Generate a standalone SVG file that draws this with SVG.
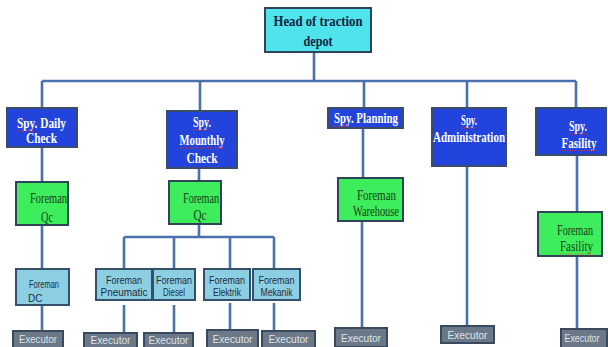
<svg xmlns="http://www.w3.org/2000/svg" width="608" height="347" viewBox="0 0 608 347">
  <style>
    .bg { fill: #ffffff; }
    .head { fill: #4fe4ec; stroke: #2f4458; stroke-width: 2; }
    .spy { fill: #2244dc; stroke: #3a4c66; stroke-width: 2; }
    .fq { fill: #3ded5c; stroke: #2f4458; stroke-width: 2; }
    .fl { fill: #8ccfe2; stroke: #34506a; stroke-width: 2; }
    .ex { fill: #6b7888; stroke: #3a4a5e; stroke-width: 2; }
    .wire { fill: none; stroke: #4a70ad; stroke-width: 2.6; }
    .tHead { font-family: "Liberation Serif", serif; font-weight: bold; font-size: 15.5px; fill: #14213a; text-anchor: middle; }
    .tSpy { font-family: "Liberation Serif", serif; font-weight: bold; font-size: 14.5px; fill: #ffffff; text-anchor: middle; }
    .tFq { font-family: "Liberation Serif", serif; font-size: 14px; fill: #173f17; text-anchor: middle; }
    .tFl { font-family: "Liberation Sans", sans-serif; font-size: 10px; fill: #1f2d3d; text-anchor: middle; }
    .tEx { font-family: "Liberation Sans", sans-serif; font-size: 11.5px; fill: #dfe4ea; text-anchor: middle; }
    .spell { fill: none; stroke: #d42a2a; stroke-width: 1.2; stroke-dasharray: 1.5 1; }
  </style>
  <rect class="bg" x="0" y="0" width="608" height="347"/>

  <!-- connectors -->
  <g id="connectors">
    <path class="wire" d="M314 52 V81 M42 81 H576 M42 81 V108 M200 81 V111 M364 81 V108 M467 81 V108 M576 81 V108"/>
    <!-- daily check column -->
    <path class="wire" d="M42 147 V182 M42 225 V269 M42 305 V331"/>
    <!-- monthly check column -->
    <path class="wire" d="M199 168 V181 M199 224 V237 M124 237 H274 M124 237 V269 M174 237 V269 M230 237 V269 M274 237 V269"/>
    <path class="wire" d="M124 305 V333 M174 305 V333 M230 303 V330 M274 303 V331"/>
    <!-- planning column -->
    <path class="wire" d="M363 128 V178 M362 221 V328"/>
    <!-- administration column -->
    <path class="wire" d="M467 166 V326"/>
    <!-- facility column -->
    <path class="wire" d="M577 155 V212 M577 256 V329"/>
  </g>

  <!-- top -->
  <g id="head">
    <rect class="head" x="265" y="8" width="106" height="44"/>
    <text class="tHead" x="318" y="26" textLength="89" lengthAdjust="spacingAndGlyphs">Head of traction</text>
    <text class="tHead" x="318" y="46" textLength="29" lengthAdjust="spacingAndGlyphs">depot</text>
  </g>

  <!-- supervisors -->
  <g id="spy-daily">
    <rect class="spy" x="7" y="108" width="70" height="39"/>
    <text class="tSpy" x="41.5" y="128" textLength="49" lengthAdjust="spacingAndGlyphs">Spy. Daily</text>
    <text class="tSpy" x="41.5" y="142.5" textLength="31" lengthAdjust="spacingAndGlyphs">Check</text>
    <path class="spell" d="M17 131 H33"/>
  </g>
  <g id="spy-monthly">
    <rect class="spy" x="167" y="111" width="70" height="57"/>
    <text class="tSpy" x="202" y="127" textLength="18" lengthAdjust="spacingAndGlyphs">Spy.</text>
    <text class="tSpy" x="202" y="145" textLength="45" lengthAdjust="spacingAndGlyphs">Mounthly</text>
    <text class="tSpy" x="202" y="162.5" textLength="31" lengthAdjust="spacingAndGlyphs">Check</text>
    <path class="spell" d="M193 130 H207 M180 148 H225"/>
  </g>
  <g id="spy-planning">
    <rect class="spy" x="328" y="108" width="75" height="20"/>
    <text class="tSpy" x="366" y="123" textLength="64" lengthAdjust="spacingAndGlyphs">Spy. Planning</text>
    <path class="spell" d="M334 126 H349"/>
  </g>
  <g id="spy-administration">
    <rect class="spy" x="432" y="108" width="74" height="58"/>
    <text class="tSpy" x="469" y="125" textLength="16" lengthAdjust="spacingAndGlyphs">Spy.</text>
    <text class="tSpy" x="469" y="141.5" textLength="72" lengthAdjust="spacingAndGlyphs">Administration</text>
    <path class="spell" d="M461 128 H475"/>
  </g>
  <g id="spy-facility">
    <rect class="spy" x="536" y="108" width="70" height="47"/>
    <text class="tSpy" x="578" y="131" textLength="18" lengthAdjust="spacingAndGlyphs">Spy.</text>
    <text class="tSpy" x="579" y="147.5" textLength="35" lengthAdjust="spacingAndGlyphs">Fasility</text>
    <path class="spell" d="M569 134 H586 M562 150.5 H597"/>
  </g>

  <!-- foremen (green) -->
  <g id="foreman-qc-daily">
    <rect class="fq" x="16" y="182" width="52" height="43"/>
    <text class="tFq" x="48.5" y="203" textLength="37" lengthAdjust="spacingAndGlyphs">Foreman</text>
    <text class="tFq" x="47" y="222" textLength="12" lengthAdjust="spacingAndGlyphs">Qc</text>
  </g>
  <g id="foreman-qc-monthly">
    <rect class="fq" x="169" y="181" width="52" height="43"/>
    <text class="tFq" x="201" y="203" textLength="36" lengthAdjust="spacingAndGlyphs">Foreman</text>
    <text class="tFq" x="200" y="220" textLength="13" lengthAdjust="spacingAndGlyphs">Qc</text>
  </g>
  <g id="foreman-warehouse">
    <rect class="fq" x="338" y="178" width="65" height="43"/>
    <text class="tFq" x="376.5" y="200" textLength="39" lengthAdjust="spacingAndGlyphs">Foreman</text>
    <text class="tFq" x="376" y="216" textLength="46" lengthAdjust="spacingAndGlyphs">Warehouse</text>
  </g>
  <g id="foreman-facility">
    <rect class="fq" x="538" y="212" width="64" height="44"/>
    <text class="tFq" x="575" y="235" textLength="36" lengthAdjust="spacingAndGlyphs">Foreman</text>
    <text class="tFq" x="576.5" y="251" textLength="33" lengthAdjust="spacingAndGlyphs">Fasility</text>
    <path class="spell" d="M560 254 H593" style="stroke:#d0782a"/>
  </g>

  <!-- foremen (light blue) -->
  <g id="foreman-dc">
    <rect class="fl" x="16" y="269" width="53" height="36"/>
    <text class="tFl" x="44" y="288" textLength="30" lengthAdjust="spacingAndGlyphs">Foreman</text>
    <text class="tFl" x="28" y="302" style="text-anchor:start">DC</text>
  </g>
  <g id="foreman-pneumatic">
    <rect class="fl" x="96" y="269" width="56" height="31"/>
    <text class="tFl" x="124" y="284" textLength="36" lengthAdjust="spacingAndGlyphs">Foreman</text>
    <text class="tFl" x="124" y="296" textLength="47" lengthAdjust="spacingAndGlyphs">Pneumatic</text>
  </g>
  <g id="foreman-diesel">
    <rect class="fl" x="153" y="269" width="42" height="31"/>
    <text class="tFl" x="174" y="284" textLength="36" lengthAdjust="spacingAndGlyphs">Foreman</text>
    <text class="tFl" x="174" y="296" textLength="22" lengthAdjust="spacingAndGlyphs">Diesel</text>
  </g>
  <g id="foreman-elektrik">
    <rect class="fl" x="204" y="269" width="46" height="31"/>
    <text class="tFl" x="227" y="284" textLength="36" lengthAdjust="spacingAndGlyphs">Foreman</text>
    <text class="tFl" x="227" y="296" textLength="28" lengthAdjust="spacingAndGlyphs">Elektrik</text>
  </g>
  <g id="foreman-mekanik">
    <rect class="fl" x="253" y="269" width="47" height="31"/>
    <text class="tFl" x="276.5" y="284" textLength="36" lengthAdjust="spacingAndGlyphs">Foreman</text>
    <text class="tFl" x="276.5" y="296" textLength="32" lengthAdjust="spacingAndGlyphs">Mekanik</text>
  </g>

  <!-- executors -->
  <g id="executor-1">
    <rect class="ex" x="13" y="331" width="50" height="18"/>
    <text class="tEx" x="38" y="343" textLength="38" lengthAdjust="spacingAndGlyphs">Executor</text>
  </g>
  <g id="executor-2">
    <rect class="ex" x="84" y="333" width="53" height="16"/>
    <text class="tEx" x="110.5" y="344" textLength="40" lengthAdjust="spacingAndGlyphs">Executor</text>
  </g>
  <g id="executor-3">
    <rect class="ex" x="144" y="333" width="49" height="16"/>
    <text class="tEx" x="168.5" y="344" textLength="40" lengthAdjust="spacingAndGlyphs">Executor</text>
  </g>
  <g id="executor-4">
    <rect class="ex" x="207" y="330" width="51" height="18"/>
    <text class="tEx" x="232.5" y="342.5" textLength="40" lengthAdjust="spacingAndGlyphs">Executor</text>
  </g>
  <g id="executor-5">
    <rect class="ex" x="262" y="331" width="53" height="18"/>
    <text class="tEx" x="288.5" y="343" textLength="40" lengthAdjust="spacingAndGlyphs">Executor</text>
  </g>
  <g id="executor-6">
    <rect class="ex" x="335" y="328" width="52" height="19"/>
    <text class="tEx" x="361" y="341.5" textLength="40" lengthAdjust="spacingAndGlyphs">Executor</text>
  </g>
  <g id="executor-7">
    <rect class="ex" x="441" y="326" width="53" height="17"/>
    <text class="tEx" x="467.5" y="339" textLength="40" lengthAdjust="spacingAndGlyphs">Executor</text>
  </g>
  <g id="executor-8">
    <rect class="ex" x="561" y="329" width="46" height="20"/>
    <text class="tEx" x="582" y="342" style="font-size:10.5px" textLength="35" lengthAdjust="spacingAndGlyphs">Executor</text>
  </g>
</svg>
